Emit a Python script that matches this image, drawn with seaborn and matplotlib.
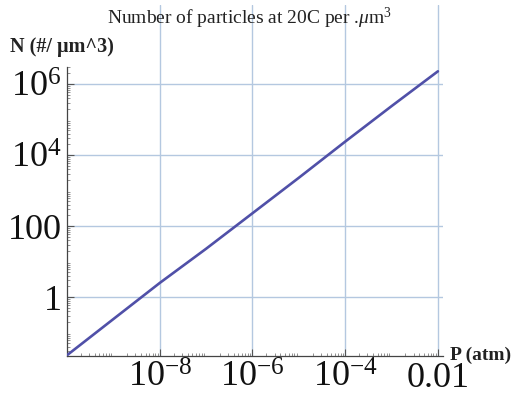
import matplotlib
matplotlib.use("Agg")
import matplotlib.pyplot as plt
import matplotlib.ticker as mticker
import numpy as np
import pandas as pd
import seaborn as sns

# ---- data ----
pressure_atm = [1e-10, 1e-9, 1e-8, 1e-7, 1e-6, 1e-5, 1e-4, 1e-3, 1e-2]
particles = [0.023, 0.24, 2.5, 23, 230, 2300, 2.4e4, 2.4e5, 2.3e6]
x_ticks = [1e-8, 1e-6, 1e-4, 1e-2]
x_tick_labels = [r"$10^{-8}$", r"$10^{-6}$", r"$10^{-4}$", "0.01"]
y_ticks = [1, 100, 1e4, 1e6]
y_tick_labels = ["1", "100", r"$10^{4}$", r"$10^{6}$"]
title = r"Number of particles at 20C per .$\mu$m$^{3}$"
x_label = "P (atm)"
y_label = "N (#/ μm^3)"

df = pd.DataFrame({"P": pressure_atm, "N": particles})

sns.set_style("white")
plt.rcParams["font.family"] = ["Liberation Serif", "DejaVu Serif"]
plt.rcParams["mathtext.fontset"] = "custom"
plt.rcParams["mathtext.rm"] = "Liberation Serif"
plt.rcParams["mathtext.it"] = "Liberation Serif:italic"
plt.rcParams["mathtext.bf"] = "Liberation Serif:bold"

ymin, ymax = 10 ** -1.66, 10 ** 8.23
yspine_top = 3e6

fig = plt.figure(figsize=(5.16, 4.08), dpi=100)
ax = fig.add_axes([67 / 516, 1 - 356 / 408, (443 - 67) / 516, (356 - 5) / 408])

sns.lineplot(data=df, x="P", y="N", ax=ax, color="#5050a8", linewidth=1.9, zorder=3)
ax.set_xscale("log")
ax.set_yscale("log")
ax.set_xlim(1e-10, 10 ** -1.89)
ax.set_ylim(ymin, ymax)

ax.xaxis.set_major_locator(mticker.FixedLocator(x_ticks))
ax.xaxis.set_major_formatter(mticker.FixedFormatter(x_tick_labels))
ax.yaxis.set_major_locator(mticker.FixedLocator(y_ticks))
ax.yaxis.set_major_formatter(mticker.FixedFormatter(y_tick_labels))
ax.xaxis.set_minor_locator(mticker.LogLocator(base=10, subs=np.arange(2, 10), numticks=50))
y_minor = [m * 10.0 ** k for k in range(-2, 7) for m in range(2, 10)]
y_minor = [v for v in y_minor if ymin <= v <= yspine_top]
ax.yaxis.set_minor_locator(mticker.FixedLocator(y_minor))
ax.xaxis.set_minor_formatter(mticker.NullFormatter())
ax.yaxis.set_minor_formatter(mticker.NullFormatter())

ax.tick_params(axis="both", which="both", bottom=True, left=True, top=False, right=False)
ax.tick_params(axis="both", which="major", direction="in", length=5, width=0.8,
               color="#555555", labelsize=26, pad=4, labelcolor="#111111")
ax.tick_params(axis="both", which="minor", direction="in", length=2.5, width=0.5, color="#666666")

ax.grid(True, which="major", color="#b4c8e0", linewidth=1.0, zorder=0)
ax.set_xlabel("")
ax.set_ylabel("")

for s in ["top", "right"]:
    ax.spines[s].set_visible(False)
ax.spines["left"].set_bounds(ymin, yspine_top)
ax.spines["left"].set_color("#444444")
ax.spines["bottom"].set_color("#444444")
ax.spines["left"].set_linewidth(0.9)
ax.spines["bottom"].set_linewidth(0.9)

fig.text(250 / 516, 1 - 18 / 408, title, ha="center", va="center", fontsize=14, color="#222222")
fig.text(10 / 516, 1 - 47 / 408, y_label, ha="left", va="center", fontsize=14.5,
         fontweight="bold", color="#222222")
fig.text(450 / 516, 1 - 355 / 408, x_label, ha="left", va="center", fontsize=14,
         fontweight="bold", color="#222222")

fig.savefig("out.png", dpi=100)
